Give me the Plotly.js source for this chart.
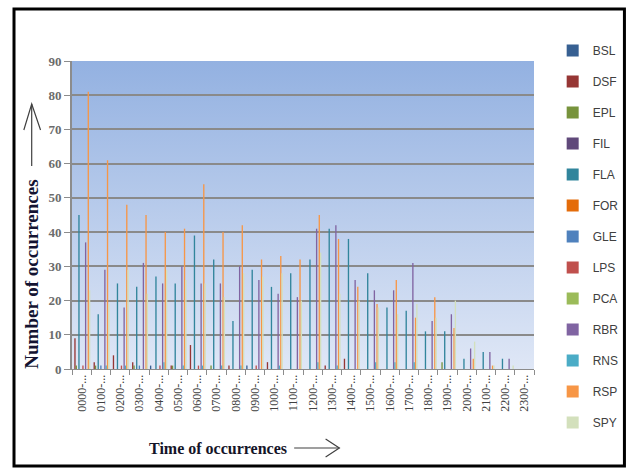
<!DOCTYPE html>
<html>
<head>
<meta charset="utf-8">
<script src="https://cdn.plot.ly/plotly-3.0.1.min.js"></script>
<style>
  html, body { margin: 0; padding: 0; background: #ffffff; }
  #chart { width: 636px; height: 468px; }
</style>
</head>
<body>
<div id="chart"></div>
<script>
// ---- data ----
const categories = ["0000-...","0100-...","0200-...","0300-...","0400-...","0500-...",
                    "0600-...","0700-...","0800-...","0900-...","1000-...","1100-...",
                    "1200-...","1300-...","1400-...","1500-...","1600-...","1700-...",
                    "1800-...","1900-...","2000-...","2100-...","2200-...","2300-..."];

const seriesNames = ["BSL","DSF","EPL","FIL","FLA","FOR","GLE","LPS","PCA","RBR","RNS","RSP","SPY"];

const BSL = [0,0,0,0,1,0,0,0,0,1,0,0,0,0,0,0,0,0,0,0,0,0,0,0];
const DSF = [9,2,4,2,0,1,7,0,1,0,2,0,0,1,3,0,0,0,0,0,0,0,0,0];
const EPL = [1,1,0,1,0,1,0,1,0,0,0,0,0,0,0,0,0,0,0,2,0,0,0,0];
const FIL = [0,0,0,0,0,0,0,0,0,0,0,0,0,0,0,0,0,0,0,0,0,0,0,0];
const FLA = [45,16,25,24,27,25,39,32,14,29,24,28,32,41,38,28,18,17,11,11,3,5,3,0];
const FOR = [0,0,0,0,0,0,0,0,0,0,0,0,0,0,0,0,0,0,0,0,0,0,0,0];
const GLE = [0,1,0,1,0,0,0,0,0,0,0,0,0,0,0,0,0,0,0,0,0,0,0,0];
const LPS = [1,0,1,0,1,0,1,0,0,1,0,0,0,0,0,0,0,0,0,0,0,0,0,0];
const PCA = [0,0,0,0,0,0,0,0,0,0,0,0,0,0,0,0,0,0,0,0,0,0,0,0];
const RBR = [37,29,18,31,25,30,25,25,30,26,22,21,41,42,26,23,23,31,14,16,6,5,3,0];
const RNS = [0,1,1,0,2,1,1,1,1,0,1,0,2,1,0,2,2,2,0,0,0,0,0,0];
const RSP = [81,61,48,45,40,41,54,40,42,32,33,32,45,38,24,19,26,15,21,12,3,1,0,0];
const SPY = [23,19,29,22,29,26,25,21,28,27,28,20,34,22,20,18,16,19,15,20,8,1,1,0];

const seriesValues = [BSL,DSF,EPL,FIL,FLA,FOR,GLE,LPS,PCA,RBR,RNS,RSP,SPY];
const seriesColors = ["#376092","#963634","#77933C","#60497A","#31859C","#E46C0A",
                      "#4F81BD","#C0504D","#9BBB59","#8064A2","#4BACC6","#F79646","#D3E0BC"];

const yTickVals = [0,10,20,30,40,50,60,70,80,90];

// ---- helpers: pixel -> paper (plot area 72..542 x 61..369) ----
const W = 636, H = 468, ML = 72, MR = 94, MT = 61, MB = 99;
const PW = W - ML - MR, PH = H - MT - MB;
const px = x => (x - ML) / PW;
const py = y => (H - MB - y) / PH;

const traces = seriesNames.map((name, i) => ({
  type: "bar",
  name: name,
  x: categories,
  y: seriesValues[i],
  legendgroup: name,
  marker: { color: seriesColors[i], line: { width: 0 } },
  hoverinfo: "skip"
}));

const grad = '<svg xmlns="http://www.w3.org/2000/svg" width="10" height="100" preserveAspectRatio="none">' +
  '<defs><linearGradient id="g" x1="0" y1="0" x2="0" y2="1">' +
  '<stop offset="0" stop-color="#93B1E1"/><stop offset="1" stop-color="#DFE7F6"/>' +
  '</linearGradient></defs><rect width="10" height="100" fill="url(#g)"/></svg>';

const layout = {
  width: W, height: H,
  margin: { l: ML, r: MR, t: MT, b: MB, pad: 0 },
  paper_bgcolor: "#ffffff",
  plot_bgcolor: "#BCCFEC",
  barmode: "group",
  bargap: 0.1,
  bargroupgap: 0,
  showlegend: true,
  legend: {
    x: px(561), xanchor: "left",
    y: py(36), yanchor: "top",
    tracegroupgap: 12,
    maxheight: 440,
    font: { family: "Liberation Sans Narrow, Liberation Sans, Arial", size: 12, color: "#404040" },
    bgcolor: "rgba(0,0,0,0)",
    itemclick: false
  },
  xaxis: {
    type: "category",
    tickson: "boundaries",
    ticks: "outside", ticklen: 5, tickcolor: "#8c8c8c", tickwidth: 1,
    showline: true, linecolor: "#8c8c8c", linewidth: 1,
    showgrid: false,
    tickangle: -90,
    tickfont: { family: "Liberation Serif, Times New Roman, serif", size: 12, color: "#404040" },
    automargin: false
  },
  yaxis: {
    range: [0, 90],
    tickvals: yTickVals,
    ticktext: yTickVals.map(String),
    ticks: "outside", ticklen: 6, tickcolor: "#8c8c8c", tickwidth: 1,
    showline: true, linecolor: "#8c8c8c", linewidth: 2,
    showgrid: true, gridcolor: "#8a8a8a", gridwidth: 2,
    zeroline: false,
    tickfont: { family: "Liberation Serif, Times New Roman, serif", size: 13, color: "#6b6b6b", weight: "bold" },
    automargin: false
  },
  images: [{
    source: "data:image/svg+xml;charset=utf-8," + encodeURIComponent(grad),
    xref: "paper", yref: "paper", x: 0, y: 1, sizex: 1, sizey: 1,
    sizing: "stretch", xanchor: "left", yanchor: "top", layer: "below"
  }],
  annotations: [
    { text: "Time of occurrences", xref: "paper", yref: "paper",
      x: px(221), y: py(448), xanchor: "center", yanchor: "middle", showarrow: false,
      font: { family: "Liberation Serif, Times New Roman, serif", size: 16, color: "#141428", weight: "bold" } },
    { text: "Number of occurrences", xref: "paper", yref: "paper",
      x: px(30), y: py(274), xanchor: "center", yanchor: "middle", showarrow: false, textangle: -90,
      font: { family: "Liberation Serif, Times New Roman, serif", size: 19, color: "#141432", weight: "bold" } }
  ],
  shapes: [
    // outer black frame
    { type: "rect", xref: "paper", yref: "paper", x0: px(13), x1: px(634), y0: py(466), y1: py(9),
      line: { color: "#000000", width: 3 }, fillcolor: "rgba(0,0,0,0)", layer: "above" },
    // x-title arrow
    { type: "line", xref: "paper", yref: "paper", x0: px(298), x1: px(344), y0: py(448), y1: py(448),
      line: { color: "#404040", width: 1.2 } },
    { type: "path", xref: "paper", yref: "paper",
      path: `M ${px(330)},${py(439)} L ${px(344)},${py(448)} L ${px(330)},${py(457)}`,
      line: { color: "#404040", width: 1.2 } },
    // y-title arrow
    { type: "line", xref: "paper", yref: "paper", x0: px(31), x1: px(31), y0: py(166), y1: py(104),
      line: { color: "#404040", width: 1.2 } },
    { type: "path", xref: "paper", yref: "paper",
      path: `M ${px(23)},${py(130)} L ${px(31)},${py(104)} L ${px(40)},${py(130)}`,
      line: { color: "#404040", width: 1.2 } }
  ]
};

Plotly.newPlot("chart", traces, layout, { staticPlot: true, displayModeBar: false });
</script>
</body>
</html>
